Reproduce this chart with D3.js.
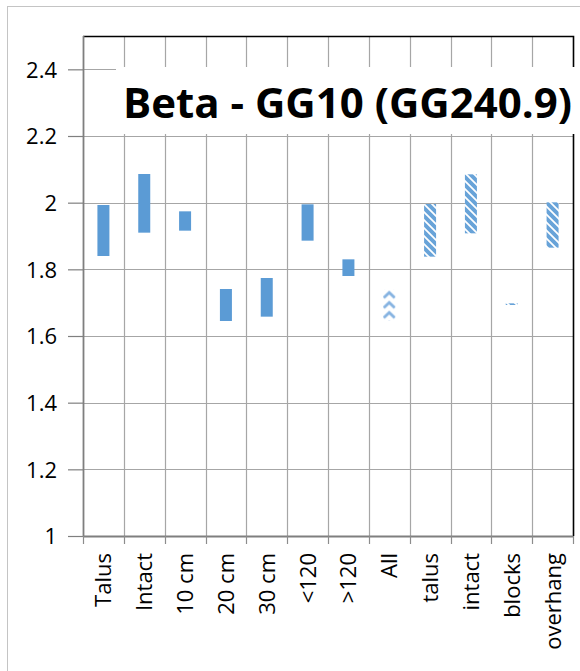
<!DOCTYPE html>
<html>
<head>
<meta charset="utf-8">
<script src="https://cdn.jsdelivr.net/npm/d3@7"></script>
<style>
  html, body { margin: 0; padding: 0; background: #fff; }
  svg { display: block; }
  text { font-family: "Open Sans", "Liberation Sans", sans-serif; fill: #000; }
</style>
</head>
<body>
<svg id="chart" width="580" height="671"></svg>
<script>
// Categories along the x axis
const categories = ["Talus", "Intact", "10 cm", "20 cm", "30 cm", "<120", ">120",
                    "All", "talus", "intact", "blocks", "overhang"];
// Lower and upper bound of each floating bar
const lows  = [1.84, 1.91, 1.916, 1.645, 1.658, 1.886, 1.78, 1.645, 1.838, 1.908, 1.693, 1.865];
const highs = [1.993, 2.086, 1.974, 1.741, 1.774, 1.995, 1.83, 1.74, 1.996, 2.085, 1.698, 2.001];
// Which group each category belongs to
const groups = ["site", "site", "site", "site", "site", "site", "site",
                "pooled", "class", "class", "class", "class"];
// Y axis tick values
const yTicks = [1, 1.2, 1.4, 1.6, 1.8, 2, 2.2, 2.4];
const titleText = "Beta - GG10 (GG240.9)";

const svg = d3.select("#chart");
const plot = { left: 83, right: 573, top: 36, bottom: 536 };
const blue = "#5B9BD5";

const x = d3.scaleBand().domain(categories).range([plot.left, plot.right]).padding(0);
const y = d3.scaleLinear().domain([1, 2.5]).range([plot.bottom, plot.top]);
const barW = 12;

// Outer chart frame
svg.append("rect")
  .attr("x", 7.5).attr("y", 6.5).attr("width", 600).attr("height", 700)
  .attr("fill", "none").attr("stroke", "#c4c4c4").attr("stroke-width", 1);

// Fill patterns
const defs = svg.append("defs");
const stripe = defs.append("pattern")
  .attr("id", "stripe").attr("patternUnits", "userSpaceOnUse")
  .attr("width", 8).attr("height", 8);
stripe.append("rect").attr("width", 8).attr("height", 8).attr("fill", "#fff");
stripe.append("path")
  .attr("d", "M-2,-2 L10,10 M-2,6 L2,10 M6,-2 L10,2")
  .attr("stroke", blue).attr("stroke-width", 3.9).attr("opacity", 0.92);

const chevron = defs.append("pattern")
  .attr("id", "chevron").attr("patternUnits", "userSpaceOnUse")
  .attr("x", x("All") + x.bandwidth() / 2 - barW / 2).attr("y", y(1.74) + 1)
  .attr("width", barW).attr("height", 10);
chevron.append("rect").attr("width", barW).attr("height", 10).attr("fill", "#fff");
chevron.append("path")
  .attr("d", "M0.5,7.5 L6,2.2 L11.5,7.5")
  .attr("fill", "none").attr("stroke", "#86B3E1").attr("stroke-width", 2.8);

const fillFor = { site: blue, pooled: "url(#chevron)", class: "url(#stripe)" };

// Horizontal gridlines
svg.append("g").selectAll("line").data(yTicks.slice(1)).join("line")
  .attr("x1", plot.left).attr("x2", plot.right)
  .attr("y1", d => Math.round(y(d)) + 0.5).attr("y2", d => Math.round(y(d)) + 0.5)
  .attr("stroke", "#a6a6a6").attr("stroke-width", 1.2);

// Vertical gridlines between categories
svg.append("g").selectAll("line").data(categories.slice(1)).join("line")
  .attr("x1", d => Math.round(x(d)) + 0.5).attr("x2", d => Math.round(x(d)) + 0.5)
  .attr("y1", plot.top).attr("y2", plot.bottom)
  .attr("stroke", "#a6a6a6").attr("stroke-width", 1.2);

// Top and right border of the plot area
svg.append("path")
  .attr("d", `M${plot.left},${plot.top + 0.5} H${plot.right + 0.5} V${plot.bottom}`)
  .attr("fill", "none").attr("stroke", "#000").attr("stroke-width", 1.6);

// Y axis
const yAxis = svg.append("g")
  .attr("transform", `translate(${plot.left},0)`)
  .call(d3.axisLeft(y).tickValues(yTicks).tickSize(15).tickPadding(11)
        .tickFormat(d3.format("~g")));
yAxis.select(".domain").attr("stroke", "#7f7f7f").attr("stroke-width", 1.8)
  .attr("d", `M0.5,${plot.top} V${plot.bottom}`);
yAxis.selectAll(".tick line").attr("stroke", "#7f7f7f").attr("stroke-width", 1.2);
yAxis.selectAll(".tick text")
  .attr("font-size", 22).attr("font-family", "Open Sans, sans-serif")
  .attr("dy", "0.36em");

// X axis: ticks at category boundaries
const xAxis = svg.append("g").attr("transform", `translate(0,${plot.bottom})`);
xAxis.append("line")
  .attr("x1", plot.left).attr("x2", plot.right)
  .attr("y1", 0.5).attr("y2", 0.5)
  .attr("stroke", "#7f7f7f").attr("stroke-width", 1.8);
const bounds = categories.map(c => x(c)).concat([plot.right]);
xAxis.selectAll("line.tk").data(bounds).join("line").attr("class", "tk")
  .attr("x1", d => Math.round(d) + 0.5).attr("x2", d => Math.round(d) + 0.5)
  .attr("y1", 0).attr("y2", 8)
  .attr("stroke", "#8c8c8c").attr("stroke-width", 1.2);
xAxis.selectAll("text").data(categories).join("text")
  .attr("transform", d => `translate(${x(d) + x.bandwidth() / 2},17) rotate(-90)`)
  .attr("text-anchor", "end")
  .attr("dy", "0.36em")
  .attr("font-size", 22)
  .text(d => d);

// Floating bars
svg.append("g").selectAll("rect").data(categories).join("rect")
  .attr("x", d => x(d) + x.bandwidth() / 2 - barW / 2)
  .attr("width", barW)
  .attr("y", (d, i) => y(highs[i]))
  .attr("height", (d, i) => Math.max(1.2, y(lows[i]) - y(highs[i])))
  .attr("fill", (d, i) => fillFor[groups[i]]);

// Title on a white panel
svg.append("rect")
  .attr("x", 116).attr("y", 67).attr("width", 461).attr("height", 67)
  .attr("fill", "#fff");
svg.append("text")
  .attr("x", 347.5).attr("y", 118)
  .attr("text-anchor", "middle")
  .attr("font-size", 42).attr("font-weight", "bold")
  .text(titleText);
</script>
</body>
</html>
